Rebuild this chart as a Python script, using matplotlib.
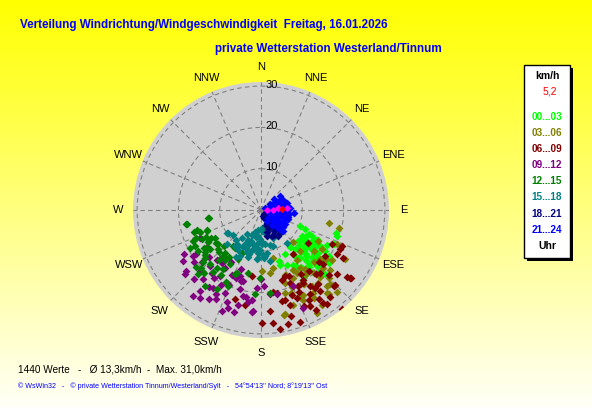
import numpy as np
import matplotlib.pyplot as plt
from matplotlib.patches import Rectangle

W, H = 592, 407

# wind direction (deg) and speed (km/h), one pair of lists per 3-hour block
dir_00_03 = [112, 114, 116, 123, 128, 124, 118, 109, 142, 152, 138, 160, 161, 148, 146,
             140, 149, 107, 115, 135, 120, 126, 130, 133, 136, 139, 131, 127, 119, 122,
             125, 129, 134, 141, 144, 137, 132, 117, 121, 143, 150, 155, 128, 133, 124,
             126, 131, 136, 120, 133, 138, 127, 142, 129, 124, 135, 118, 130, 145, 123,
             137, 132, 140, 128, 134, 126, 121, 139, 131, 136]
spd_00_03 = [10.2, 11.6, 13.0, 11.7, 12.1, 14.8, 18.0, 19.4, 11.5, 12.2, 16.5, 13.1, 14.1, 16.1, 18.9,
             19.5, 19.7, 19.1, 19.4, 22.0, 14.5, 15.8, 13.5, 16.8, 14.0, 17.6, 18.2, 16.0, 15.2, 17.0,
             12.8, 19.0, 15.3, 15.0, 13.6, 20.5, 17.4, 13.8, 16.4, 17.8, 15.5, 14.8, 21.0, 12.5, 20.0,
             13.2, 14.2, 15.6, 12.6, 18.6, 16.2, 17.2, 14.6, 16.6, 13.4, 19.2, 15.6, 11.8, 17.0, 18.4,
             13.0, 20.0, 18.0, 15.0, 14.4, 19.6, 16.0, 12.4, 17.8, 21.4]

dir_03_06 = [100.5, 102.8, 120.4, 151.5, 167, 171.8, 150, 141.5, 135, 118.4, 122.9, 165.5,
             136.4, 114.4, 159.6, 157.7, 153.5, 138.5, 137.2, 147.4, 167.6, 161.2, 179.3, 168,
             145, 130, 125, 155, 160, 142, 148, 133, 128, 152, 144, 139,
             146, 152, 158, 140, 135, 149, 156, 162, 143, 131, 127, 153, 150, 137, 159,
             164, 141, 134, 146, 155]
spd_03_06 = [16.8, 19.4, 23.6, 28.3, 25.9, 15.3, 17.5, 25.6, 11.1, 15.8, 17.5, 11.9,
             13.7, 20.1, 16.7, 19.6, 22.9, 21.6, 27.0, 27.2, 26.0, 24.2, 14.8, 14.3,
             19.0, 18.5, 21.0, 18.2, 21.5, 22.4, 23.8, 20.6, 16.2, 20.4, 15.0, 24.5,
             17.0, 16.4, 20.0, 19.8, 23.2, 25.0, 23.0, 18.6, 17.8, 22.0, 19.6, 26.0, 20.8, 24.6, 16.8,
             21.0, 26.2, 18.0, 22.2, 24.0]

dir_06_09 = [179.6, 173.8, 166.6, 161, 127.3, 140.9, 116.5, 147, 169, 124.6, 115.9, 114,
             120.1, 143.9, 125.7, 120.3, 127.9, 127, 135.3, 141.5, 146.3, 145.4, 163.5, 171.4,
             170.9, 163, 196.3, 188, 189.5, 150, 155, 158, 152, 142, 137, 148, 160, 132, 165, 175,
             150, 156, 144, 139, 134, 153, 160, 147, 142, 130, 158, 164, 149, 136, 154,
             167, 145, 131, 151, 157]
spd_06_09 = [27.3, 27.5, 28.5, 28.8, 27.1, 31.0, 21.4, 21.9, 20.4, 13.9, 19.0, 21.4,
             23.0, 13.3, 19.1, 21.2, 26.3, 27.2, 25.4, 26.8, 27.2, 23.0, 17.6, 20.0,
             29.1, 24.1, 22.4, 16.2, 23.4, 20.5, 22.0, 19.0, 24.8, 22.6, 21.0, 18.4, 17.0, 18.8, 22.5, 24.5,
             23.6, 25.4, 24.2, 20.4, 22.8, 26.2, 21.8, 25.8, 18.8, 24.0, 23.0, 26.6, 19.8, 25.6, 20.6,
             22.6, 27.8, 20.0, 27.6, 17.4]

dir_09_12 = [236.7, 230.9, 214.8, 198.5, 184.4, 219.7, 194.8, 169.5, 157, 197.6, 222, 245.6,
             235.9, 240.3, 235.9, 228.6, 229.8, 218.2, 217, 211.5, 201.2, 203.5, 193.5, 185.2,
             193.9, 212, 218.2, 156.6, 173.9, 180, 205, 208, 225, 200, 190, 215, 178, 186, 210, 232,
             196, 204, 212, 220, 188, 200, 208, 216, 224, 192, 228, 236, 199, 207, 214,
             183, 195, 221, 203, 210]
spd_09_12 = [22.5, 23.4, 25.9, 25.0, 24.5, 15.5, 19.9, 20.8, 20.0, 16.8, 18.3, 16.2,
             15.9, 21.6, 19.8, 19.2, 24.1, 26.5, 24.6, 22.1, 26.3, 21.8, 23.6, 24.9,
             17.8, 16.5, 19.3, 25.8, 20.5, 16.7, 19.5, 23.0, 21.0, 17.5, 21.5, 20.0, 18.5, 22.0, 14.5, 20.5,
             18.0, 17.2, 18.8, 21.8, 22.6, 23.8, 20.6, 16.0, 23.2, 21.2, 17.0, 19.0, 15.2, 24.2, 22.6,
             19.0, 25.6, 16.2, 19.8, 25.0]

dir_12_15 = [259.6, 261.7, 248.9, 245.4, 232.4, 217.6, 201.2, 209.2, 173.8, 219.3, 261.5, 259.6,
             252, 249.3, 241, 241.4, 231.2, 214.6, 204.3, 229.6, 215.4, 224.3, 216.4, 217.5,
             202, 191.4, 180.9, 203.3, 184, 225, 235, 228, 238, 222, 212, 206, 244, 226, 220, 233,
             220, 228, 236, 244, 214, 223, 231, 239, 247, 210, 218, 226, 234, 242, 250,
             205, 213, 229, 237, 253]
spd_12_15 = [18.5, 12.9, 14.1, 18.0, 15.6, 11.0, 16.3, 22.0, 20.1, 14.4, 12.7, 18.3,
             17.0, 13.9, 13.8, 18.2, 13.3, 11.1, 11.3, 17.8, 15.0, 21.7, 22.9, 17.6,
             16.8, 15.5, 16.5, 20.0, 20.5, 14.5, 16.0, 18.8, 13.0, 20.5, 18.5, 19.5, 15.8, 12.5, 13.5, 17.0,
             15.8, 14.0, 16.6, 14.8, 13.8, 18.0, 17.4, 15.0, 17.2, 15.2, 19.0, 20.2, 13.6, 19.6, 15.6,
             13.0, 17.0, 21.0, 18.2, 16.2]

dir_15_18 = [235.7, 210.5, 178, 161, 185, 204.5, 141.8, 172.4, 187, 236.5, 214.9, 200.4,
             187.7, 179, 199, 183.2, 213, 178, 165.6, 177, 156.3, 190, 195, 205,
             220, 225, 170, 168, 182, 193, 208, 198, 175, 188,
             180, 186, 192, 198, 204, 210, 174, 184, 196, 202, 216, 228, 190, 176, 206,
             194, 182, 200]
spd_15_18 = [9.8, 6.8, 4.3, 9.2, 12.0, 12.2, 10.1, 10.4, 8.4, 10.0, 8.2, 6.5,
             4.9, 8.3, 10.7, 11.7, 10.1, 5.2, 8.7, 10.9, 7.4, 9.5, 11.0, 9.0,
             9.5, 11.5, 12.5, 6.0, 7.0, 10.0, 12.8, 7.8, 11.2, 6.2,
             7.6, 9.2, 8.6, 10.6, 8.0, 11.2, 8.2, 10.4, 11.8, 9.8, 10.8, 9.0, 6.6, 11.6, 10.0,
             5.6, 9.6, 8.8]

dir_18_21 = [155.8, 140, 142.4, 159, 167.6, 150, 145, 135, 148, 160, 138, 152, 163,
             130, 146, 157, 141, 149, 135, 165, 144, 153, 139, 158, 147]
spd_18_21 = [3.4, 7.2, 4.9, 1.6, 6.4, 2.5, 5.8, 6.5, 4.2, 5.0, 3.0, 6.8, 3.8,
             5.5, 7.5, 2.0, 1.2, 6.0, 4.0, 5.5, 2.2, 4.6, 5.2, 6.9, 3.6]

dir_21_24 = [53.6, 57.6, 63, 74, 85.4, 94.6, 102.5, 120.3, 132.9, 137.8, 152,
             60, 65, 70, 75, 80, 85, 90, 95, 100, 105, 110, 115, 125, 130,
             70, 80, 90, 100, 110, 120, 60, 85, 95, 140, 145, 50, 75, 105, 115,
             65, 72, 78, 88, 98, 108, 118, 128, 92, 82, 68, 112, 122, 135, 102]
spd_21_24 = [5.7, 2.6, 5.2, 6.5, 7.0, 8.1, 6.4, 6.7, 7.4, 5.7, 2.9,
             3.5, 4.2, 5.0, 4.0, 5.5, 3.0, 4.5, 6.0, 5.0, 3.8, 5.8, 4.5, 5.0, 4.0,
             2.0, 1.5, 2.5, 1.8, 2.8, 3.0, 1.2, 6.0, 2.0, 2.5, 4.5, 4.0, 2.2, 6.8, 6.2,
             6.0, 5.5, 6.2, 5.2, 6.8, 7.0, 6.0, 6.8, 3.5, 4.8, 3.0, 4.2, 5.5, 6.8, 5.6]

dirs = [dir_00_03, dir_03_06, dir_06_09, dir_09_12, dir_12_15, dir_15_18, dir_18_21, dir_21_24]
spds = [spd_00_03, spd_03_06, spd_06_09, spd_09_12, spd_12_15, spd_15_18, spd_18_21, spd_21_24]
hour_labels = ['00...03', '03...06', '06...09', '09...12', '12...15', '15...18', '18...21', '21...24']
hour_colors = ['#00ff00', '#808000', '#800000', '#800080', '#008000', '#008080', '#000080', '#0000ff']

# last values (magenta) and current value (red)
dir_last = [90, 90, 84, 85]
spd_last = [1.4, 3.0, 4.2, 6.2]
dir_now = 86
spd_now = 5.2

compass = ['N', 'NNE', 'NE', 'ENE', 'E', 'ESE', 'SE', 'SSE',
           'S', 'SSW', 'SW', 'WSW', 'W', 'WNW', 'NW', 'NNW']
rings = [10, 20, 30]
r_max = 31.0

title = 'Verteilung Windrichtung/Windgeschwindigkeit  Freitag, 16.01.2026'
subtitle = 'private Wetterstation Westerland/Tinnum'
stats = '1440 Werte   -   \u00d8 13,3km/h  -  Max. 31,0km/h'
footer = ("\u00a9 WsWin32   -   \u00a9 private Wetterstation Tinnum/Westerland/Sylt   -   "
          "54\u00b054'13'' Nord; 8\u00b019'13'' Ost")

plt.rcParams['font.family'] = ['Liberation Sans', 'DejaVu Sans']


def fx(x):
    return x / W


def fy(y):
    return 1 - y / H


fig = plt.figure(figsize=(W / 100, H / 100), dpi=100)

# yellow -> pale background
bg = fig.add_axes([0, 0, 1, 1])
t = np.linspace(0, 1, 256)
grad = np.zeros((256, 2, 3))
grad[:, :, 0] = 1.0
grad[:, :, 1] = 1.0
grad[:, :, 2] = (t * 0.97)[:, None]
bg.imshow(grad, aspect='auto', extent=[0, 1, 0, 1])
bg.axis('off')

cx, cy, rad = 261, 210, 128
ax = fig.add_axes([fx(cx - rad), fy(cy + rad), 2 * rad / W, 2 * rad / H], projection='polar')
ax.set_theta_zero_location('N')
ax.set_theta_direction(-1)
ax.set_facecolor('#d0d0d0')
ax.spines['polar'].set_visible(False)

for d, s, c in zip(dirs, spds, hour_colors):
    ax.scatter(np.radians(d), s, s=16, marker='D', color=c, linewidths=0, zorder=3)
ax.scatter(np.radians(dir_last), spd_last, s=14, marker='D', color='#ff00ff', linewidths=0, zorder=4)
ax.scatter(np.radians(dir_now), spd_now, s=14, marker='D', color='#ff0000', linewidths=0, zorder=5)

ax.set_xticks(np.radians(np.arange(0, 360, 22.5)))
ax.set_xticklabels([])
ax.set_yticks(rings)
ax.set_yticklabels([])
ax.set_ylim(0, r_max)
ax.grid(True, color='#808080', linestyle=(0, (4, 3)), linewidth=0.8)

for i, lbl in enumerate(compass):
    ax.text(np.radians(i * 22.5), r_max * 143 / rad, lbl, ha='center', va='center', fontsize=8)
for r in rings:
    ax.annotate(str(r), xy=(0, r), xytext=(3, 1), textcoords='offset points',
                ha='left', va='center', fontsize=8)

fig.text(fx(20), fy(25), title, ha='left', va='center', color='#0000ff',
         fontsize=8.4, fontweight='bold')
fig.text(fx(215), fy(49), subtitle, ha='left', va='center', color='#0000ff',
         fontsize=8.4, fontweight='bold')

# legend box with shadow
fig.add_artist(Rectangle((fx(527), fy(261)), 46 / W, 193 / H, transform=fig.transFigure,
                         facecolor='black', edgecolor='none'))
fig.add_artist(Rectangle((fx(524), fy(258)), 46 / W, 193 / H, transform=fig.transFigure,
                         facecolor='white', edgecolor='black', linewidth=1))
fig.text(fx(547), fy(76), 'km/h', ha='center', va='center', fontsize=7.5, fontweight='bold')
fig.text(fx(550), fy(91), '5,2', ha='center', va='center', fontsize=7.5, color='red')
for i, (lbl, c) in enumerate(zip(hour_labels, hour_colors)):
    fig.text(fx(547), fy(117 + i * 16.1), lbl, ha='center', va='center', fontsize=7.2,
             fontweight='bold', color=c)
fig.text(fx(547), fy(246), 'Uhr', ha='center', va='center', fontsize=7.5, fontweight='bold')

fig.text(fx(18), fy(369), stats, ha='left', va='center', fontsize=7.2)
fig.text(fx(18), fy(386), footer, ha='left', va='center', fontsize=5.1, color='#0000ff')

fig.savefig('out.png', dpi=100)
